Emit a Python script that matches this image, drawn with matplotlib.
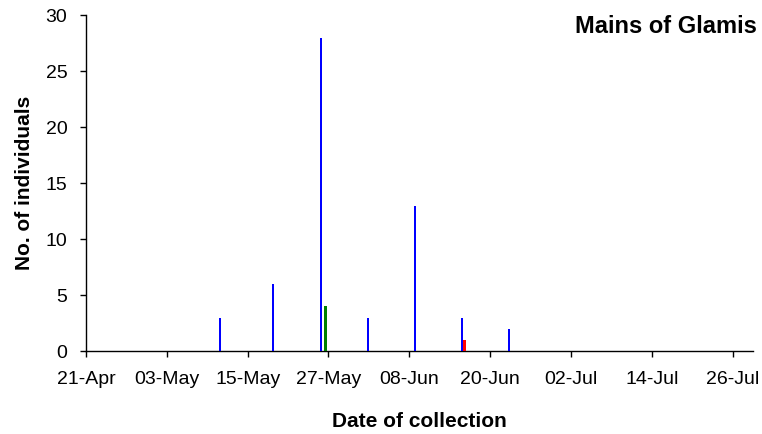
import matplotlib
matplotlib.use('Agg')
import matplotlib.pyplot as plt
import pandas as pd

plt.rcParams['font.family'] = ['Liberation Sans', 'DejaVu Sans']

# data
blue_dates = ['2000-05-11', '2000-05-19', '2000-05-26', '2000-06-02',
              '2000-06-09', '2000-06-16', '2000-06-23']
blue_vals = [3, 6, 28, 3, 13, 3, 2]
green_dates = ['2000-05-27']
green_vals = [4]
red_dates = ['2000-06-16']
red_vals = [1]
tick_labels = ['21-Apr', '03-May', '15-May', '27-May', '08-Jun',
               '20-Jun', '02-Jul', '14-Jul', '26-Jul']

fig = plt.figure(figsize=(7.62, 4.34), dpi=100)
ax = fig.add_axes([0.1129, 0.1906, 0.875, 0.774])

bd = pd.to_datetime(blue_dates) - pd.Timedelta(hours=4)
gd = pd.to_datetime(green_dates) - pd.Timedelta(hours=11)
rd = pd.to_datetime(red_dates) + pd.Timedelta(hours=6)

ax.bar(bd, blue_vals, width=0.3, color='#0000ff', zorder=3)
ax.bar(gd, green_vals, width=0.45, color='#008000', zorder=3)
ax.bar(rd, red_vals, width=0.45, color='#ff0000', zorder=3)

start = pd.Timestamp('2000-04-21')
ticks = [start + pd.Timedelta(days=12 * i) for i in range(len(tick_labels))]
ax.set_xticks(ticks)
ax.set_xticklabels(tick_labels)
ax.set_xlim(start, start + pd.Timedelta(days=99))
ax.set_ylim(0, 30)
ax.set_yticks(range(0, 31, 5))

for s in ['top', 'right']:
    ax.spines[s].set_visible(False)
for s in ['left', 'bottom']:
    ax.spines[s].set_linewidth(1.0)
    ax.spines[s].set_color('black')

ax.tick_params(axis='both', direction='out', length=4.5, width=1.0,
               labelsize=14, colors='black')
ax.tick_params(axis='x', pad=9.5)
ax.tick_params(axis='y', pad=9)

ax.set_xlabel('Date of collection', fontsize=15, fontweight='bold', labelpad=17.5)
ax.set_ylabel('No. of individuals', fontsize=15, fontweight='bold', labelpad=8)

fig.text(0.9934, 0.9247, 'Mains of Glamis', ha='right', va='baseline',
         fontsize=17, fontweight='bold')

fig.savefig('out.png', dpi=100)
